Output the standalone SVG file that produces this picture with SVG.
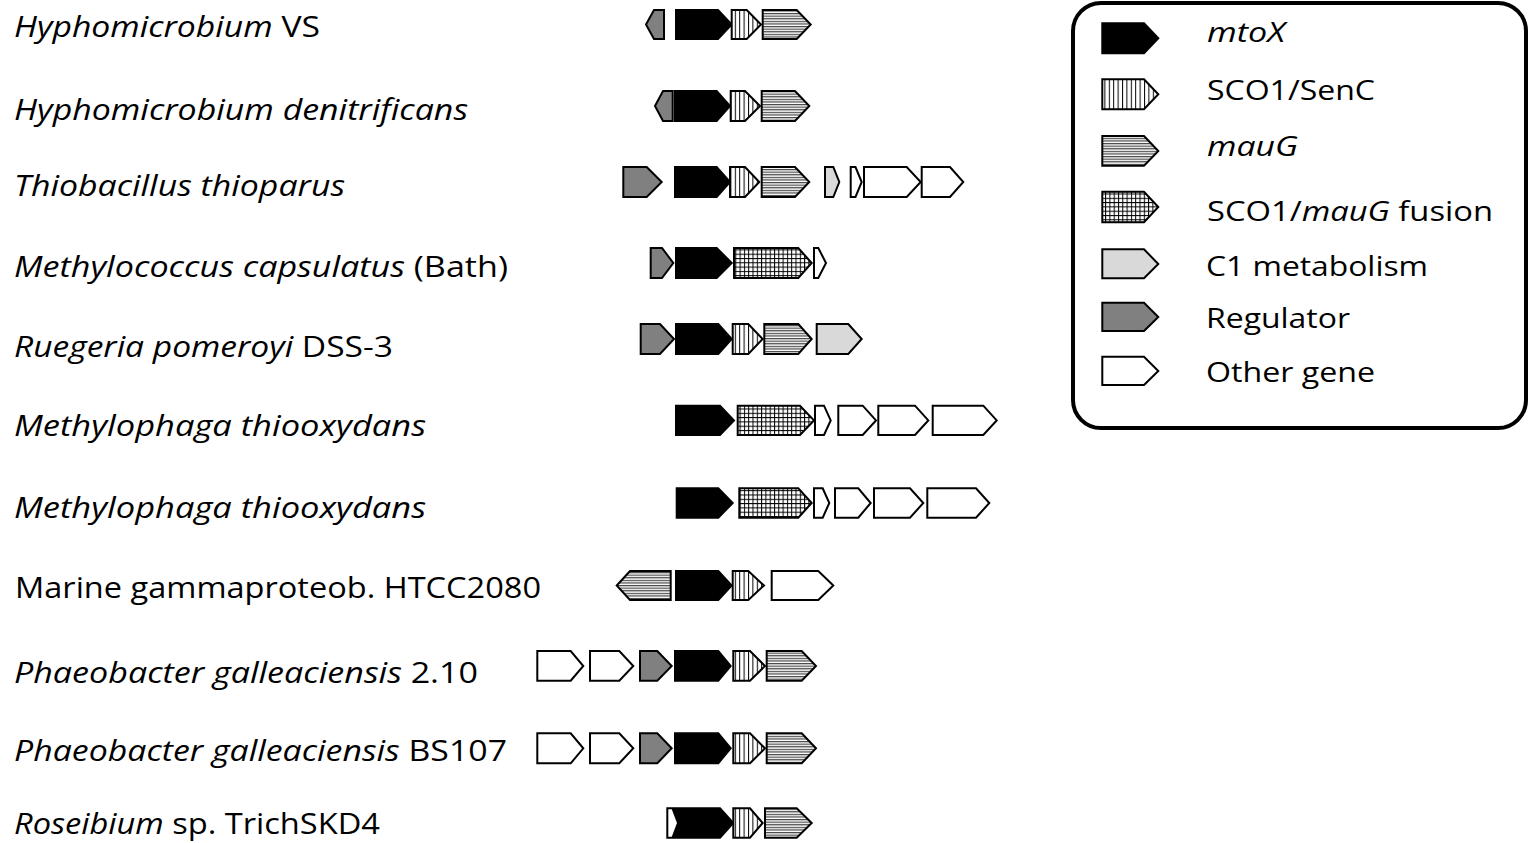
<svg xmlns="http://www.w3.org/2000/svg" width="1534" height="843" viewBox="0 0 1534 843">
<style>
.g{stroke:#000;stroke-width:2;stroke-linejoin:miter}
.mto{fill:#000}
.reg{fill:#808080}
.c1{fill:#d9d9d9}
.oth{fill:#fff}
.sco{fill:url(#pSco)}
.mau{fill:url(#pMau)}
.fus{fill:url(#pFus)}
.lab{font-family:"Open Sans","Noto Sans","Liberation Sans",sans-serif;font-size:30px;fill:#000}
.leg{font-family:"Open Sans","Noto Sans","Liberation Sans",sans-serif;font-size:28px;fill:#000}
.i{font-style:italic}
</style>
<defs>
<pattern id="pSco" patternUnits="userSpaceOnUse" width="4.4" height="10">
<rect width="4.4" height="10" fill="#fff"/>
<rect x="0" y="0" width="1" height="10" fill="#000"/>
</pattern>
<pattern id="pMau" patternUnits="userSpaceOnUse" width="10" height="2.6">
<rect width="10" height="2.6" fill="#fff"/>
<rect x="0" y="0" width="10" height="1.2" fill="#444"/>
</pattern>
<pattern id="pFus" patternUnits="userSpaceOnUse" width="4.3" height="4.3">
<rect width="4.3" height="4.3" fill="#fff"/>
<rect x="0" y="0" width="1" height="4.3" fill="#000"/>
<rect x="0" y="0" width="4.3" height="1" fill="#000"/>
</pattern>
</defs>
<rect width="1534" height="843" fill="#fff"/>

<g id="row1">
<text class="lab" x="14" y="37" textLength="306" lengthAdjust="spacingAndGlyphs"><tspan class="i">Hyphomicrobium</tspan> VS</text>
<polygon class="g reg" points="664,10 654,10 646,24.5 654,39 664,39"/>
<polygon class="g mto" points="676,10 718,10 731.7,24.5 718,39 676,39"/>
<polygon class="g sco" points="731.7,10 746.7,10 761,24.5 746.7,39 731.7,39"/>
<polygon class="g mau" points="762.7,10 796.7,10 810.7,24.5 796.7,39 762.7,39"/>
</g>

<g id="row2">
<text class="lab i" x="14" y="120" textLength="454" lengthAdjust="spacingAndGlyphs">Hyphomicrobium denitrificans</text>
<polygon class="g reg" points="672.7,91 663,91 655,106 663,121 672.7,121"/>
<polygon class="g mto" points="675,91 716.7,91 730,106 716.7,121 675,121"/>
<polygon class="g sco" points="730.7,91 745,91 760,106 745,121 730.7,121"/>
<polygon class="g mau" points="761.7,91 795,91 809.3,106 795,121 761.7,121"/>
</g>

<g id="row3">
<text class="lab i" x="14" y="196" textLength="331" lengthAdjust="spacingAndGlyphs">Thiobacillus thioparus</text>
<polygon class="g reg" points="623.3,167 646.7,167 661.7,182 646.7,197 623.3,197"/>
<polygon class="g mto" points="675,167 716.7,167 730,182 716.7,197 675,197"/>
<polygon class="g sco" points="730,167 745,167 759.3,182 745,197 730,197"/>
<polygon class="g mau" points="761.7,167 795,167 809.3,182 795,197 761.7,197"/>
<polygon class="g c1" points="825,167 833.3,167 839.3,182 833.3,197 825,197"/>
<polygon class="g oth" points="850.7,167 855.5,167 861.7,182 855.5,197 850.7,197"/>
<polygon class="g oth" points="864,167 906.7,167 920.7,182 906.7,197 864,197"/>
<polygon class="g oth" points="921.7,167 950,167 963.3,182 950,197 921.7,197"/>
</g>

<g id="row4">
<text class="lab" x="14" y="277" textLength="494" lengthAdjust="spacingAndGlyphs"><tspan class="i">Methylococcus capsulatus</tspan> (Bath)</text>
<polygon class="g reg" points="650.7,248 662,248 673.3,263 662,278 650.7,278"/>
<polygon class="g mto" points="676,248 716.7,248 731.7,263 716.7,278 676,278"/>
<polygon class="g fus" points="734,248 798.3,248 811.7,263 798.3,278 734,278"/>
<polygon class="g oth" points="814,248 818.3,248 826,263 818.3,278 814,278"/>
</g>

<g id="row5">
<text class="lab" x="14" y="357" textLength="379" lengthAdjust="spacingAndGlyphs"><tspan class="i">Ruegeria pomeroyi</tspan> DSS-3</text>
<polygon class="g reg" points="640.7,324 660,324 674,339 660,354 640.7,354"/>
<polygon class="g mto" points="676,324 718.3,324 731.7,339 718.3,354 676,354"/>
<polygon class="g sco" points="732.7,324 748.3,324 762.7,339 748.3,354 732.7,354"/>
<polygon class="g mau" points="764.3,324 798.3,324 811.7,339 798.3,354 764.3,354"/>
<polygon class="g c1" points="816.7,324 848.3,324 861.7,339 848.3,354 816.7,354"/>
</g>

<g id="row6">
<text class="lab i" x="14" y="436" textLength="412" lengthAdjust="spacingAndGlyphs">Methylophaga thiooxydans</text>
<polygon class="g mto" points="676,405.7 720,405.7 734,420.4 720,435 676,435"/>
<polygon class="g fus" points="737.7,405.7 800,405.7 814,420.4 800,435 737.7,435"/>
<polygon class="g oth" points="815,405.7 824,405.7 830.7,420.4 824,435 815,435"/>
<polygon class="g oth" points="838.3,405.7 862.7,405.7 876,420.4 862.7,435 838.3,435"/>
<polygon class="g oth" points="878.3,405.7 915,405.7 928.3,420.4 915,435 878.3,435"/>
<polygon class="g oth" points="932.7,405.7 983.3,405.7 996.7,420.4 983.3,435 932.7,435"/>
</g>

<g id="row7">
<text class="lab i" x="14" y="518" textLength="412" lengthAdjust="spacingAndGlyphs">Methylophaga thiooxydans</text>
<polygon class="g mto" points="676.7,488.3 718.3,488.3 732.7,503 718.3,517.7 676.7,517.7"/>
<polygon class="g fus" points="739.3,488.3 798.3,488.3 811.7,503 798.3,517.7 739.3,517.7"/>
<polygon class="g oth" points="814,488.3 822.7,488.3 829.3,503 822.7,517.7 814,517.7"/>
<polygon class="g oth" points="835,488.3 858.3,488.3 870.7,503 858.3,517.7 835,517.7"/>
<polygon class="g oth" points="874,488.3 910,488.3 923.3,503 910,517.7 874,517.7"/>
<polygon class="g oth" points="927.3,488.3 976,488.3 989.3,503 976,517.7 927.3,517.7"/>
</g>

<g id="row8">
<text class="lab" x="15" y="598" textLength="526" lengthAdjust="spacingAndGlyphs">Marine gammaproteob. HTCC2080</text>
<polygon class="g mau" points="670.7,571 630,571 616.7,585.5 630,600 670.7,600"/>
<polygon class="g mto" points="676,571 718.3,571 731.7,585.5 718.3,600 676,600"/>
<polygon class="g sco" points="732.7,571 748.3,571 764,585.5 748.3,600 732.7,600"/>
<polygon class="g oth" points="771.7,571 818.3,571 833.3,585.5 818.3,600 771.7,600"/>
</g>

<g id="row9">
<text class="lab" x="14" y="683" textLength="464" lengthAdjust="spacingAndGlyphs"><tspan class="i">Phaeobacter galleaciensis</tspan> 2.10</text>
<polygon class="g oth" points="537.3,651 570.7,651 583.3,666 570.7,680.7 537.3,680.7"/>
<polygon class="g oth" points="590,651 619.3,651 633.3,666 619.3,680.7 590,680.7"/>
<polygon class="g reg" points="640,651 657.3,651 671.7,666 657.3,680.7 640,680.7"/>
<polygon class="g mto" points="675,651 718.3,651 730.7,666 718.3,680.7 675,680.7"/>
<polygon class="g sco" points="733.3,651 750,651 765,666 750,680.7 733.3,680.7"/>
<polygon class="g mau" points="766.7,651 801.7,651 816,666 801.7,680.7 766.7,680.7"/>
</g>

<g id="row10">
<text class="lab" x="14" y="761" textLength="493" lengthAdjust="spacingAndGlyphs"><tspan class="i">Phaeobacter galleaciensis</tspan> BS107</text>
<polygon class="g oth" points="537.3,733.3 570.7,733.3 583.3,748.3 570.7,763.3 537.3,763.3"/>
<polygon class="g oth" points="590,733.3 619.3,733.3 633.3,748.3 619.3,763.3 590,763.3"/>
<polygon class="g reg" points="640,733.3 657.3,733.3 671.7,748.3 657.3,763.3 640,763.3"/>
<polygon class="g mto" points="675,733.3 718.3,733.3 730.7,748.3 718.3,763.3 675,763.3"/>
<polygon class="g sco" points="733.3,733.3 750,733.3 765,748.3 750,763.3 733.3,763.3"/>
<polygon class="g mau" points="766.7,733.3 801.7,733.3 816,748.3 801.7,763.3 766.7,763.3"/>
</g>

<g id="row11">
<text class="lab" x="14" y="834" textLength="366" lengthAdjust="spacingAndGlyphs"><tspan class="i">Roseibium</tspan> sp. TrichSKD4</text>
<polygon class="g mto" points="674,808.3 720,808.3 733.3,823 720,837.7 674,837.7"/>
<polygon class="g oth" points="667.3,808.3 672.5,808.3 678,823 672.5,837.7 667.3,837.7"/>
<polygon class="g sco" points="733.3,808.3 750,808.3 762.7,823 750,837.7 733.3,837.7"/>
<polygon class="g mau" points="765,808.3 796.7,808.3 811.7,823 796.7,837.7 765,837.7"/>
</g>

<g id="legend">
<rect x="1073" y="3" width="453" height="425" rx="28" ry="28" fill="#fff" stroke="#000" stroke-width="4"/>
<g id="leg-mtoX">
<polygon class="g mto" points="1102.3,23.3 1144,23.3 1158.3,38.3 1144,53.3 1102.3,53.3"/>
<text class="leg i" x="1207" y="42" textLength="78" lengthAdjust="spacingAndGlyphs">mtoX</text>
</g>
<g id="leg-sco">
<polygon class="g sco" points="1102.3,79.3 1144,79.3 1158.3,94.3 1144,109.3 1102.3,109.3"/>
<text class="leg" x="1207" y="100" textLength="168" lengthAdjust="spacingAndGlyphs">SCO1/SenC</text>
</g>
<g id="leg-mauG">
<polygon class="g mau" points="1102.3,136 1144,136 1158.3,151 1144,165.7 1102.3,165.7"/>
<text class="leg i" x="1207" y="156" textLength="91" lengthAdjust="spacingAndGlyphs">mauG</text>
</g>
<g id="leg-fusion">
<polygon class="g fus" points="1102.3,191.7 1144,191.7 1158.3,207 1144,222.3 1102.3,222.3"/>
<text class="leg" x="1207" y="221" textLength="286" lengthAdjust="spacingAndGlyphs">SCO1/<tspan class="i">mauG</tspan> fusion</text>
</g>
<g id="leg-c1">
<polygon class="g c1" points="1102.3,249.3 1144,249.3 1158.3,264 1144,278.3 1102.3,278.3"/>
<text class="leg" x="1206" y="276" textLength="222" lengthAdjust="spacingAndGlyphs">C1 metabolism</text>
</g>
<g id="leg-reg">
<polygon class="g reg" points="1102.3,302.7 1144,302.7 1158.3,317 1144,331 1102.3,331"/>
<text class="leg" x="1206" y="328" textLength="144" lengthAdjust="spacingAndGlyphs">Regulator</text>
</g>
<g id="leg-other">
<polygon class="g oth" points="1102.3,356.7 1144,356.7 1158.3,371 1144,385 1102.3,385"/>
<text class="leg" x="1206" y="382" textLength="169" lengthAdjust="spacingAndGlyphs">Other gene</text>
</g>
</g>
</svg>
